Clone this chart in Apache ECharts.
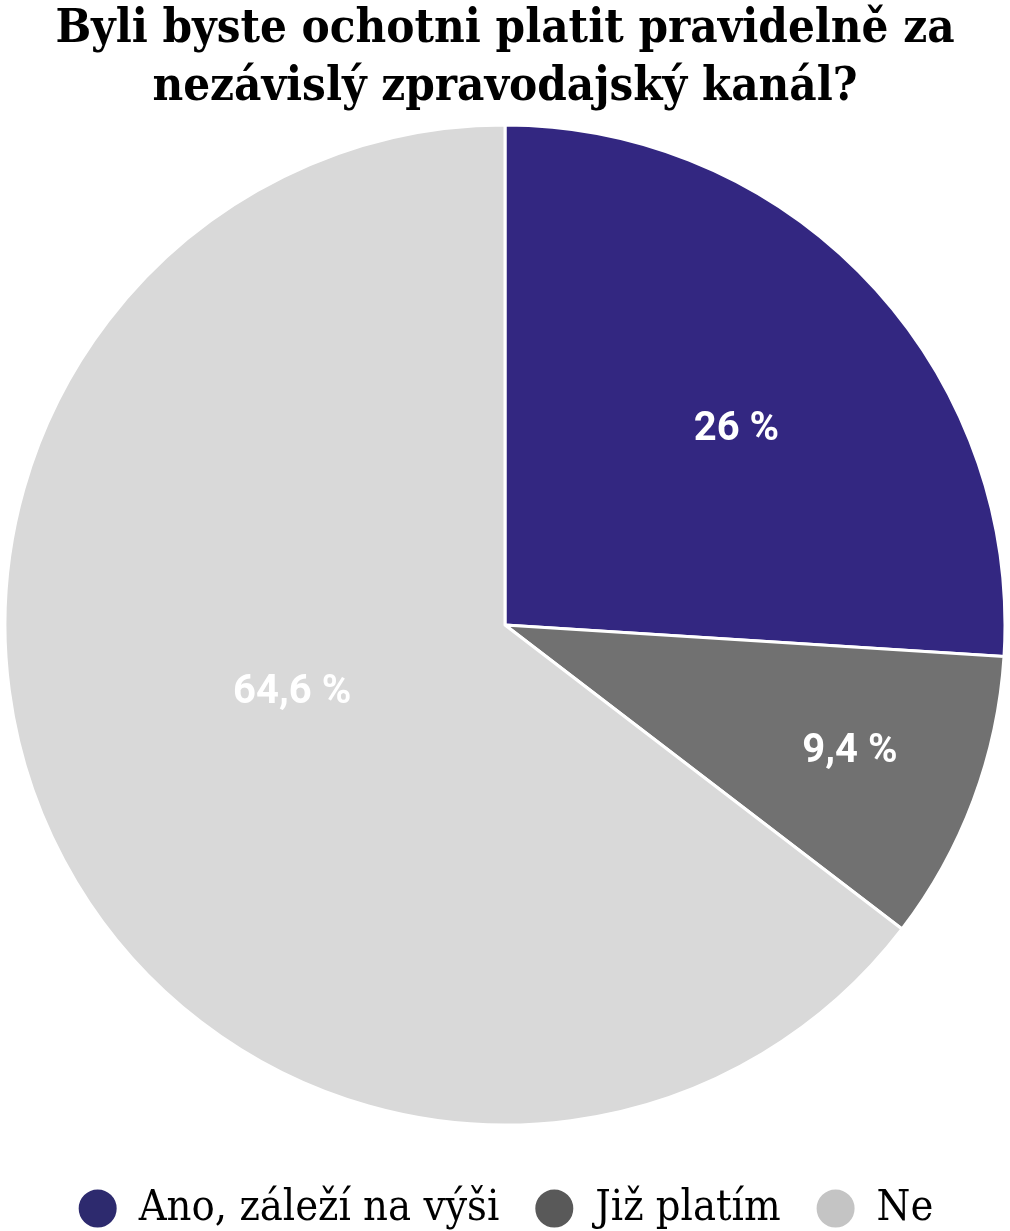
<!DOCTYPE html>
<html><head><meta charset="utf-8">
<script src="https://cdn.jsdelivr.net/npm/echarts@6/dist/echarts.min.js"></script>
<style>html,body{margin:0;padding:0;background:#fff}#c{width:1010px;height:1231px}</style>
</head><body><div id="c"></div>
<script>
const titleText = "Byli byste ochotni platit pravidelně za\nnezávislý zpravodajský kanál?";
const categories = ["Ano, záleží na výši", "Již platím", "Ne"];
const values = [26, 9.4, 64.6];
const labels = ["26 %", "9,4 %", "64,6 %"];
const sliceColors = ["#332781", "#717171", "#d9d9d9"];
const legendColors = ["#2d2a6e", "#595959", "#c4c4c4"];
const labelShift = [[47, -22], [108, 38], [14, -44]];

const chart = echarts.init(document.getElementById('c'), null, {renderer: 'canvas'});
chart.setOption({
  animation: false,
  title: {
    text: titleText, left: 'center', top: -4,
    textStyle: {fontFamily: "'DejaVu Serif Condensed','DejaVu Serif',serif", fontWeight: 900, fontSize: 47, lineHeight: 58, color: '#000'}
  },
  legend: {
    bottom: -4, left: 'center', icon: 'circle', itemWidth: 40, itemHeight: 40, itemGap: 34,
    textStyle: {fontFamily: "'DejaVu Serif Condensed','DejaVu Serif',serif", fontSize: 43, color: '#000', padding: [0, 0, 0, 16]},
    data: categories.map((c, i) => ({name: c, itemStyle: {color: legendColors[i]}}))
  },
  series: [{
    type: 'pie', center: [505, 625], radius: 500, startAngle: 90, clockwise: true,
    itemStyle: {borderColor: '#fff', borderWidth: 3},
    label: {position: 'inner', color: '#fff', fontFamily: "Roboto, sans-serif", fontWeight: 'bold', fontSize: 40,
      formatter: p => labels[p.dataIndex]},
    labelLine: {show: false},
    labelLayout: p => ({dx: labelShift[p.dataIndex][0], dy: labelShift[p.dataIndex][1]}),
    emphasis: {disabled: true},
    data: categories.map((c, i) => ({name: c, value: values[i], itemStyle: {color: sliceColors[i]}}))
  }]
});
</script></body></html>
